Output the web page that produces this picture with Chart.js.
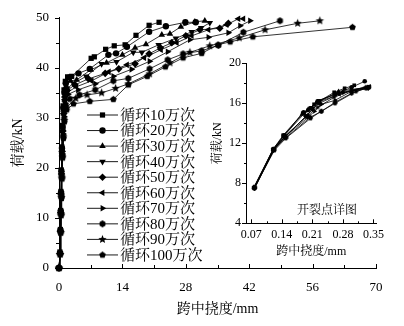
<!DOCTYPE html>
<html>
<head>
<meta charset="utf-8">
<script src="https://cdn.jsdelivr.net/npm/chart.js@4.4.1/dist/chart.umd.min.js"></script>
<style>
  html, body { margin: 0; padding: 0; background: #fff; }
  #wrap { position: relative; width: 404px; height: 326px; }
  #wrap canvas { position: absolute; left: 0; top: 0; }
</style>
</head>
<body>
<div id="wrap">
  <canvas id="main" width="404" height="326"></canvas>
  <canvas id="inset" width="404" height="326"></canvas>
</div>
<script>
// series names
var seriesNames = ['循环10万次', '循环20万次', '循环30万次', '循环40万次', '循环50万次',
                   '循环60万次', '循环70万次', '循环80万次', '循环90万次', '循环100万次'];

// main chart: [deflection mm, load kN]
var main10 = [[0,0],[0.2,3.2],[0.3,7.7],[0.36,11.5],[0.42,15.3],[0.5,19.6],[0.62,24.2],[0.75,28.5],[0.9,32.4],[1.1,35.6],[1.4,37.3],[1.9,38.2],[2.8,38.3],[7.1,41.9],[7.8,42.2],[10.3,43.7],[12.2,44.4],[14.6,44.6],[17.0,46.5],[19.9,48.5],[22.1,49.1]];
var main20 = [[0,0],[0.22,3.0],[0.32,7.5],[0.38,11.4],[0.45,15.1],[0.53,19.4],[0.65,24.0],[0.8,28.3],[0.95,32.0],[1.2,35.0],[1.5,36.9],[2.3,38.1],[4.3,38.9],[6.8,39.8],[10.9,42.6],[12.6,42.9],[15.0,44.2],[19.9,47.2],[23.6,48.3],[27.9,49.1],[30.2,49.1]];
var main30 = [[0,0],[0.21,3.1],[0.31,7.6],[0.37,11.3],[0.44,15.0],[0.54,19.2],[0.66,23.8],[0.8,28.0],[0.98,31.6],[1.2,34.4],[1.6,36.4],[2.5,37.4],[3.9,37.6],[7.0,39.6],[10.5,41.0],[14.0,42.6],[16.8,44.0],[19.2,44.7],[22.7,46.6],[24.5,46.8],[26.9,48.2],[30.0,49.2],[32.2,49.4]];
var main40 = [[0,0],[0.23,3.0],[0.33,7.5],[0.39,11.2],[0.46,14.9],[0.55,19.0],[0.68,23.6],[0.83,27.7],[1.0,31.3],[1.25,34.0],[1.7,35.8],[3.2,36.9],[6.0,38.3],[9.4,40.8],[12.7,41.2],[16.4,43.1],[18.3,43.1],[22.0,44.6],[25.8,45.9],[29.3,47.2],[31.4,48.0],[33.3,49.0]];
var main50 = [[0,0],[0.22,2.9],[0.32,7.4],[0.4,11.1],[0.47,14.8],[0.56,18.8],[0.7,23.3],[0.86,27.4],[1.05,30.9],[1.3,33.6],[1.8,35.5],[3.5,36.6],[6.5,37.8],[10.2,38.9],[13.2,39.8],[16.8,40.8],[19.9,42.8],[22.4,44.0],[24.9,45.0],[28.0,46.4],[31.1,47.6],[35.5,47.9],[37.4,48.9]];
var main60 = [[0,0],[0.24,2.9],[0.34,7.4],[0.41,11.0],[0.48,14.6],[0.58,18.6],[0.72,23.0],[0.88,27.1],[1.08,30.6],[1.35,33.2],[1.9,35.1],[3.8,36.2],[7.2,37.4],[11.0,39.2],[15.0,40.6],[18.8,42.0],[22.5,43.6],[26.0,45.0],[29.3,46.4],[33.0,47.6],[37.0,48.6],[39.6,49.8],[40.7,49.8]];
var main70 = [[0,0],[0.23,2.8],[0.35,7.3],[0.42,10.9],[0.5,14.4],[0.6,18.4],[0.74,22.8],[0.9,26.8],[1.1,30.3],[1.4,32.8],[2.0,34.7],[4.2,35.6],[8.0,36.8],[12.0,38.3],[16.0,39.7],[20.0,41.3],[24.0,43.2],[28.9,45.6],[33.0,46.1],[37.4,47.0],[40.0,48.4],[42.2,49.4]];
var main80 = [[0,0],[0.25,2.8],[0.36,7.2],[0.43,10.8],[0.51,14.3],[0.61,18.2],[0.76,22.5],[0.92,26.5],[1.12,29.9],[1.5,32.4],[2.4,33.8],[4.5,34.6],[8.0,35.6],[12.0,37.4],[15.3,37.9],[20.0,39.8],[24.0,41.6],[27.4,42.8],[31.5,43.4],[35.2,44.5],[40.7,47.1],[48.8,49.4]];
var main90 = [[0,0],[0.24,2.7],[0.37,7.1],[0.45,10.6],[0.53,14.1],[0.63,18.0],[0.78,22.2],[0.95,26.2],[1.15,29.5],[1.6,32.0],[3.7,33.9],[6.2,34.6],[9.4,35.0],[12.5,35.9],[15.3,36.8],[20.0,38.8],[24.5,41.0],[28.9,43.1],[33.3,44.4],[39.8,46.0],[45.5,47.6],[52.7,48.9],[57.6,49.4]];
var main100 = [[0,0],[0.26,2.7],[0.38,7.0],[0.46,10.5],[0.55,13.9],[0.65,17.8],[0.8,22.0],[0.98,25.9],[1.2,29.2],[1.7,31.6],[3.2,32.8],[6.8,33.3],[12.0,33.7],[15.3,36.6],[19.5,38.3],[23.5,40.2],[27.4,42.0],[31.5,42.9],[35.1,44.6],[37.8,45.2],[42.8,46.2],[64.8,48.1]];

// inset (cracking point detail): [deflection mm, load kN]
var inset10 = [[0.077,7.6],[0.12,11.4],[0.143,12.8],[0.188,15.0],[0.2,15.3],[0.214,15.9],[0.26,17.1],[0.284,17.5],[0.306,17.8]];
var inset20 = [[0.077,7.5],[0.121,11.4],[0.145,12.8],[0.19,15.1],[0.205,15.5],[0.222,16.2],[0.262,16.9],[0.3,17.6],[0.33,18.2]];
var inset30 = [[0.076,7.6],[0.12,11.4],[0.144,12.7],[0.186,14.9],[0.2,15.4],[0.218,16.0],[0.27,17.2],[0.336,17.6]];
var inset40 = [[0.077,7.6],[0.122,11.5],[0.146,12.8],[0.192,15.0],[0.208,15.6],[0.225,16.3],[0.27,17.0],[0.34,17.7]];
var inset50 = [[0.078,7.5],[0.121,11.3],[0.147,12.6],[0.195,14.7],[0.21,15.4],[0.226,16.0],[0.28,17.1],[0.338,17.5]];
var inset60 = [[0.077,7.6],[0.123,11.4],[0.148,12.7],[0.198,14.8],[0.212,15.5],[0.228,16.2],[0.272,16.9],[0.341,17.7]];
var inset70 = [[0.078,7.6],[0.12,11.3],[0.146,12.6],[0.2,14.6],[0.215,15.2],[0.231,15.9],[0.262,16.3],[0.3,17.2],[0.335,17.6]];
var inset80 = [[0.077,7.5],[0.122,11.4],[0.15,12.6],[0.205,14.6],[0.231,15.2],[0.262,16.1],[0.3,17.0],[0.333,17.5]];
var inset90 = [[0.077,7.6],[0.121,11.4],[0.147,12.7],[0.2,14.8],[0.222,15.6],[0.26,16.6],[0.3,17.3],[0.332,17.6]];
var inset100 = [[0.078,7.6],[0.123,11.3],[0.149,12.5],[0.206,14.5],[0.23,15.2],[0.262,16.0],[0.31,17.2],[0.34,17.6]];

var mainSeries = [main10, main20, main30, main40, main50, main60, main70, main80, main90, main100];
var insetSeries = [inset10, inset20, inset30, inset40, inset50, inset60, inset70, inset80, inset90, inset100];

// tick values
var mainXTicks = [0, 14, 28, 42, 56, 70];
var mainXMinor = [7, 21, 35, 49, 63];
var mainYTicks = [0, 10, 20, 30, 40, 50];
var mainYMinor = [5, 15, 25, 35, 45];
var insetXTicks = [0.07, 0.14, 0.21, 0.28, 0.35];
var insetXMinor = [0.105, 0.175, 0.245, 0.315];
var insetYTicks = [4, 8, 12, 16, 20];
var insetYMinor = [6, 10, 14, 18];

var FONT = "'Liberation Serif', 'Noto Serif CJK SC', 'Noto Sans CJK SC', serif";
Chart.defaults.font.family = FONT;
Chart.defaults.color = '#000';

// filled polygon / star markers
function polyMarker(r, n, inner) {
    var size = Math.ceil(r * 2) + 2;
    var c = document.createElement('canvas');
    c.width = size;
    c.height = size;
    var g = c.getContext('2d');
    var k = inner ? n * 2 : n;
    g.beginPath();
    for (var i = 0; i < k; i++) {
        var rr = (inner && i % 2) ? r * inner : r;
        var a = -Math.PI / 2 + i * 2 * Math.PI / k;
        g.lineTo(size / 2 + rr * Math.cos(a), size / 2 + rr * Math.sin(a));
    }
    g.closePath();
    g.fillStyle = '#000';
    g.fill();
    return c;
}

var mainStyles = ['rect', 'circle', 'triangle', 'triangle', 'rectRot', 'triangle', 'triangle',
                  polyMarker(3.4, 6), polyMarker(4.4, 5, 0.45), polyMarker(3.5, 5)];
var insetStyles = ['rect', 'circle', 'triangle', 'triangle', 'rectRot', 'triangle', 'triangle',
                   polyMarker(2.4, 6), polyMarker(3, 5, 0.45), polyMarker(2.4, 5)];
var markerRotation = [0, 0, 0, 180, 0, 270, 90, 0, 0, 0];
var mainRadius = [3.7, 3.2, 3.8, 3.8, 3.8, 3.8, 3.8, 3, 3, 3];
var insetRadius = [2.6, 2.3, 2.7, 2.7, 2.7, 2.7, 2.7, 2, 2, 2];

function makeDatasets(list, styles, radius) {
    return list.map(function (pts, i) {
        return {
            label: seriesNames[i],
            data: pts.map(function (p) { return {x: p[0], y: p[1]}; }),
            borderColor: '#000',
            borderWidth: 0.8,
            pointStyle: styles[i],
            pointRotation: markerRotation[i],
            pointRadius: radius[i],
            pointHoverRadius: radius[i],
            pointBackgroundColor: '#000',
            pointBorderColor: '#000',
            pointBorderWidth: 0,
            tension: 0,
            clip: false
        };
    });
}

// small tick marks (x inward, y outward)
var tickMarks = {
    id: 'tickMarks',
    afterDraw: function (chart, args, opts) {
        var ctx = chart.ctx;
        var area = chart.chartArea;
        var xs = chart.scales.x, ys = chart.scales.y;
        ctx.save();
        ctx.strokeStyle = '#000';
        ctx.lineWidth = 1;
        ctx.beginPath();
        opts.xMajor.concat(opts.xMinor).forEach(function (v, i) {
            var len = i < opts.xMajor.length ? opts.majorLen : opts.minorLen;
            var px = Math.round(xs.getPixelForValue(v)) + 0.5;
            ctx.moveTo(px, area.bottom);
            ctx.lineTo(px, area.bottom - len);
        });
        opts.yMajor.concat(opts.yMinor).forEach(function (v, i) {
            var len = i < opts.yMajor.length ? opts.majorLen : opts.minorLen;
            var py = Math.round(ys.getPixelForValue(v)) + 0.5;
            ctx.moveTo(area.left, py);
            ctx.lineTo(area.left - len, py);
        });
        ctx.stroke();
        ctx.restore();
    }
};

// legend with line + marker
var lineLegend = {
    id: 'lineLegend',
    afterDraw: function (chart) {
        var ctx = chart.ctx;
        ctx.save();
        ctx.font = "15px " + FONT;
        ctx.textBaseline = 'middle';
        ctx.fillStyle = '#000';
        ctx.strokeStyle = '#000';
        chart.data.datasets.forEach(function (ds, i) {
            var y = 115 + i * 15.55;
            ctx.lineWidth = 0.9;
            ctx.beginPath();
            ctx.moveTo(87, y);
            ctx.lineTo(118, y);
            ctx.stroke();
            Chart.helpers.drawPoint(ctx, {
                pointStyle: ds.pointStyle,
                radius: ds.pointRadius,
                rotation: ds.pointRotation,
                borderWidth: 0
            }, 102.5, y);
            ctx.fillText(ds.label, 120, y + 1);
        });
        ctx.restore();
    }
};

var insetLabel = {
    id: 'insetLabel',
    afterDraw: function (chart) {
        var ctx = chart.ctx;
        ctx.save();
        ctx.font = "12px " + FONT;
        ctx.textAlign = 'center';
        ctx.textBaseline = 'middle';
        ctx.fillStyle = '#000';
        ctx.fillText('开裂点详图', 327, 211);
        ctx.restore();
    }
};

function axis(min, max, ticks, fmt, size, pad, title, titleSize, titlePad, fitFn) {
    return {
        type: 'linear',
        min: min,
        max: max,
        afterBuildTicks: function (s) { s.ticks = ticks.map(function (v) { return {value: v}; }); },
        ticks: { autoSkip: false, maxRotation: 0, padding: pad, font: {size: size}, color: '#000',
                 callback: fmt },
        grid: { display: false, drawTicks: false },
        border: { display: true, color: '#000', width: 1 },
        title: { display: true, text: title, color: '#000', font: {size: titleSize}, padding: titlePad },
        afterFit: fitFn
    };
}

new Chart(document.getElementById('main'), {
    type: 'line',
    data: { datasets: makeDatasets(mainSeries, mainStyles, mainRadius) },
    options: {
        responsive: false,
        animation: false,
        events: [],
        layout: { padding: {left: 0, right: 28, top: 11, bottom: 0} },
        scales: {
            x: axis(0, 70, mainXTicks, function (v) { return v; }, 13, 12, '跨中挠度/mm', 14,
                    {top: 0, bottom: 8}, function (s) { s.height = 58; }),
            y: axis(0, 50, mainYTicks, function (v) { return v; }, 13, 10, '荷载/kN', 14,
                    {top: 10, bottom: 0}, function (s) { s.width = 59; })
        },
        plugins: {
            legend: { display: false },
            tooltip: { enabled: false },
            tickMarks: { xMajor: mainXTicks, xMinor: mainXMinor, yMajor: mainYTicks, yMinor: mainYMinor,
                         majorLen: 4, minorLen: 3 }
        }
    },
    plugins: [tickMarks, lineLegend]
});

new Chart(document.getElementById('inset'), {
    type: 'line',
    data: { datasets: makeDatasets(insetSeries, insetStyles, insetRadius) },
    options: {
        responsive: false,
        animation: false,
        events: [],
        layout: { padding: {left: 0, right: 27.5, top: 63.3, bottom: 0} },
        scales: {
            x: axis(0.058, 0.357, insetXTicks, function (v) { return v.toFixed(2); }, 12, 4, '跨中挠度/mm', 12,
                    {top: 0, bottom: 67}, function (s) { s.height = 102.7; }),
            y: axis(4, 20, insetYTicks, function (v) { return v; }, 12, 5, '荷载/kN', 12,
                    {top: 210.5, bottom: 0}, function (s) { s.width = 246; })
        },
        plugins: {
            legend: { display: false },
            tooltip: { enabled: false },
            tickMarks: { xMajor: insetXTicks, xMinor: insetXMinor, yMajor: insetYTicks, yMinor: insetYMinor,
                         majorLen: 4, minorLen: 2 }
        }
    },
    plugins: [tickMarks, insetLabel]
});
</script>
</body>
</html>
